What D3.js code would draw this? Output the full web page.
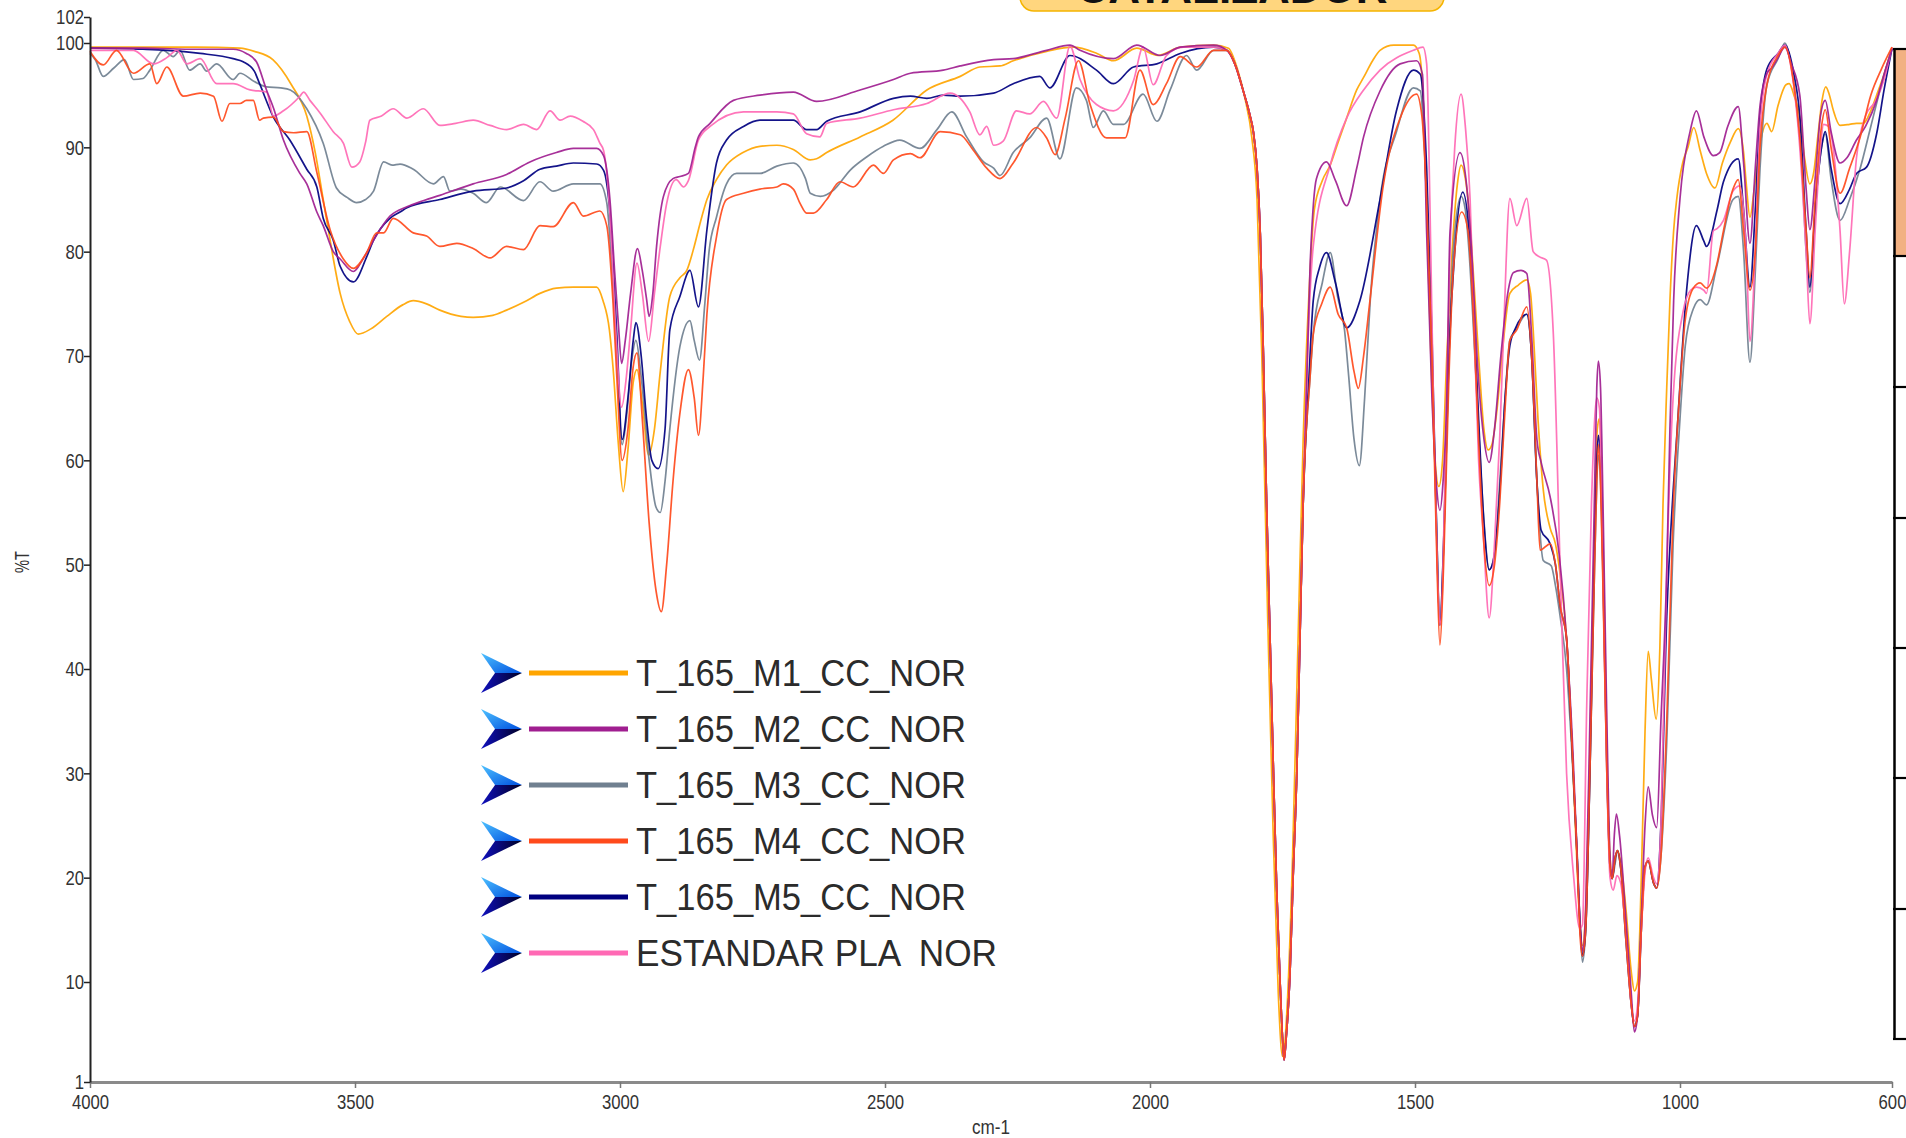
<!DOCTYPE html>
<html>
<head>
<meta charset="utf-8">
<script src="https://cdn.jsdelivr.net/npm/d3@7"></script>
<style>
  html, body { margin: 0; padding: 0; background: #fff; overflow: hidden; }
  svg { display: block; }
</style>
</head>
<body>
<svg id="chart" width="1906" height="1138"></svg>
<script>
// ---------------- DATA ----------------
const seriesNames = ["T_165_M1_CC_NOR", "T_165_M2_CC_NOR", "T_165_M3_CC_NOR", "T_165_M4_CC_NOR", "T_165_M5_CC_NOR", "ESTANDAR PLA  NOR"];
const xTicks = [4000, 3500, 3000, 2500, 2000, 1500, 1000, 600];
const yTicks = [1, 10, 20, 30, 40, 50, 60, 70, 80, 90, 100, 102];
const badgeText = "CATALIZADOR";

// common C=O band (1855-1711 cm-1)
const carbonyl = [[1855,99.3],[1840,98.0],[1824,95.4],[1812,93.2],[1805,91.5],[1798,88.0],[1792,81.8],[1786,70.0],[1780,55.9],[1773,42.0],[1767,30.0],[1761,19.0],[1755,10.6],[1750,5.0],[1747,3.0],[1743,5.0],[1736,10.6],[1730,20.0],[1723,30.0],[1717,43.0],[1711,55.9]];

const m1 = [[4000,99.6],[3900,99.6],[3800,99.6],[3717,99.5],[3690,99.2],[3655,98.4],[3620,96.0],[3591,93.0],[3575,89.5],[3560,85.0],[3545,80.5],[3528,76.0],[3510,73.3],[3494,72.1],[3470,72.6],[3440,73.8],[3410,74.9],[3390,75.3],[3365,75.0],[3340,74.4],[3300,73.8],[3277,73.7],[3240,73.9],[3214,74.4],[3180,75.2],[3151,76.0],[3120,76.5],[3088,76.6],[3044,76.6],[3032,75.3],[3020,72.5],[3013,68.8],[3003,61.5],[2994,57.0],[2985,61.0],[2975,67.5],[2968,68.7],[2958,65.5],[2946,60.5],[2935,63.0],[2924,68.5],[2906,75.7],[2887,77.5],[2874,78.2],[2860,80.5],[2849,82.7],[2836,85.0],[2818,86.9],[2799,88.3],[2768,89.5],[2736,90.1],[2704,90.2],[2673,89.8],[2641,88.8],[2629,88.9],[2610,89.5],[2547,91.0],[2485,92.6],[2421,95.5],[2358,96.8],[2321,97.7],[2283,97.8],[2258,98.3],[2195,99.2],[2145,99.6],[2100,99.0],[2069,98.3],[2025,99.5],[1985,98.8],[1943,99.6],[1880,99.8],[1852,99.5],[1835,97.5],[1820,94.5],[1808,91.0],[1798,85.0],[1789,70.0],[1778,45.0],[1768,25.0],[1758,9.0],[1750,3.3],[1741,8.0],[1731,22.0],[1721,42.0],[1711,62.0],[1700,76.0],[1690,84.0],[1675,86.8],[1660,88.3],[1645,90.5],[1629,92.8],[1610,95.5],[1597,96.7],[1580,98.3],[1566,99.3],[1540,99.8],[1503,99.8],[1492,99.0],[1485,95.0],[1478,84.0],[1470,70.0],[1462,60.0],[1455,57.5],[1448,60.0],[1440,70.0],[1430,80.0],[1420,86.5],[1413,88.3],[1405,87.0],[1398,84.0],[1390,78.0],[1380,70.0],[1370,63.0],[1362,61.0],[1355,61.5],[1345,65.0],[1335,70.5],[1321,76.0],[1305,76.8],[1289,77.3],[1282,76.0],[1277,72.5],[1268,64.0],[1258,57.2],[1245,53.5],[1235,52.0],[1226,49.0],[1214,42.9],[1205,34.0],[1195,22.0],[1188,15.0],[1184,13.5],[1178,17.0],[1170,32.0],[1162,52.0],[1156,63.0],[1152,64.0],[1147,57.0],[1140,38.0],[1134,24.0],[1128,20.5],[1122,22.0],[1118,22.6],[1112,21.5],[1102,17.0],[1092,11.0],[1086,9.2],[1080,10.0],[1073,20.0],[1066,34.0],[1060,41.7],[1054,39.0],[1045,35.2],[1038,42.0],[1032,55.9],[1025,67.0],[1019,75.3],[1012,82.0],[1006,85.1],[995,88.5],[985,90.0],[974,91.9],[962,89.7],[950,87.5],[934,86.1],[920,88.5],[905,90.5],[890,91.8],[880,89.5],[875,86.5],[868,83.3],[860,86.0],[850,90.0],[836,92.3],[827,91.5],[815,94.0],[800,96.0],[794,96.1],[785,95.0],[774,92.9],[765,89.0],[755,86.5],[748,87.5],[740,91.0],[732,94.5],[725,95.8],[718,95.0],[711,93.6],[698,92.1],[680,92.2],[667,92.3],[654,92.3],[640,93.5],[629,95.0],[615,97.0],[600,99.6]];

const m2 = [[4000,99.5],[3900,99.5],[3800,99.4],[3730,99.4],[3705,99.0],[3686,98.2],[3667,95.5],[3654,93.8],[3635,90.7],[3604,87.5],[3591,86.5],[3572,83.8],[3560,82.5],[3541,80.0],[3528,79.3],[3503,78.1],[3485,79.3],[3465,81.1],[3434,83.4],[3402,84.3],[3370,84.9],[3340,85.4],[3277,86.5],[3214,87.4],[3170,88.6],[3120,89.5],[3088,89.9],[3044,89.9],[3031,89.2],[3019,85.0],[3010,78.0],[3003,73.0],[2997,69.3],[2990,71.5],[2980,76.0],[2967,80.3],[2958,78.2],[2950,75.5],[2945,73.8],[2938,76.0],[2931,80.5],[2918,85.3],[2900,87.0],[2887,87.2],[2871,87.5],[2858,90.0],[2852,91.0],[2830,92.3],[2786,94.5],[2736,95.0],[2673,95.3],[2629,94.4],[2547,95.5],[2484,96.5],[2452,97.1],[2390,97.4],[2358,97.8],[2295,98.4],[2258,98.5],[2195,99.3],[2151,99.8],[2132,99.3],[2069,98.5],[2025,99.8],[1981,98.8],[1943,99.6],[1880,99.8],
  ...carbonyl,
  [1698,78.6],[1686,87.0],[1667,88.6],[1650,86.8],[1629,84.4],[1610,88.0],[1597,91.0],[1566,95.4],[1528,98.0],[1497,98.3],[1486,97.0],[1478,81.8],[1468,66.0],[1460,58.0],[1453,55.2],[1447,58.0],[1440,66.0],[1434,81.8],[1415,89.5],[1404,87.0],[1392,79.0],[1383,70.0],[1371,62.5],[1360,59.8],[1350,63.0],[1338,70.0],[1325,76.0],[1314,78.0],[1300,78.2],[1289,77.9],[1280,72.0],[1270,62.0],[1262,59.8],[1245,56.5],[1228,51.0],[1214,42.9],[1202,32.0],[1194,22.0],[1188,15.0],[1184,13.0],[1178,17.0],[1170,35.0],[1162,55.0],[1157,67.0],[1154,69.5],[1150,67.0],[1145,55.0],[1138,35.0],[1132,22.0],[1128,20.0],[1124,24.0],[1120,26.1],[1114,24.0],[1102,16.0],[1092,9.0],[1086,5.5],[1080,7.0],[1073,16.0],[1066,25.0],[1060,28.7],[1052,26.0],[1044,24.8],[1036,35.0],[1025,49.4],[1019,63.0],[1012,75.3],[1000,85.1],[981,91.5],[969,93.5],[955,91.0],[937,89.2],[925,89.5],[910,92.0],[890,93.9],[880,88.5],[868,80.8],[858,88.0],[849,94.0],[836,97.1],[827,97.6],[815,98.6],[802,99.6],[790,98.0],[774,95.0],[762,86.0],[755,82.1],[745,87.0],[735,93.0],[726,94.5],[715,91.5],[698,88.5],[685,89.0],[667,90.7],[650,92.0],[629,94.5],[612,97.5],[600,99.4]];

const m3 = [[4000,99.0],[3990,98.4],[3975,96.8],[3955,97.6],[3935,98.4],[3918,96.5],[3900,96.6],[3887,97.4],[3862,99.3],[3843,98.7],[3830,99.3],[3812,97.4],[3792,98.0],[3780,97.3],[3761,98.0],[3730,96.5],[3717,97.1],[3690,96.3],[3667,95.8],[3640,95.7],[3622,95.5],[3591,93.7],[3560,90.4],[3535,86.1],[3515,85.2],[3497,84.7],[3480,85.0],[3465,85.8],[3446,88.6],[3430,88.3],[3415,88.4],[3390,87.9],[3352,86.5],[3333,87.2],[3321,85.8],[3300,86.0],[3277,85.6],[3252,84.7],[3226,86.2],[3182,84.9],[3151,86.7],[3126,85.8],[3088,86.5],[3038,86.5],[3025,84.7],[3015,78.0],[3006,70.0],[2996,61.5],[2988,64.0],[2978,69.5],[2970,71.5],[2960,68.0],[2945,60.0],[2932,55.5],[2924,55.0],[2915,58.0],[2906,63.0],[2887,70.9],[2868,73.4],[2860,71.5],[2850,69.6],[2840,75.0],[2832,80.0],[2818,83.3],[2799,86.5],[2780,87.5],[2736,87.5],[2704,88.2],[2673,88.5],[2650,87.0],[2641,85.6],[2622,85.3],[2597,85.9],[2566,87.8],[2534,89.1],[2503,90.1],[2472,90.7],[2434,89.9],[2402,91.7],[2374,93.4],[2346,91.0],[2314,88.6],[2295,88.0],[2283,87.3],[2258,89.5],[2227,90.9],[2195,92.8],[2170,88.9],[2139,95.7],[2120,94.5],[2107,91.9],[2088,93.5],[2069,92.2],[2050,92.2],[2013,95.1],[1987,92.5],[1962,95.5],[1931,98.8],[1912,97.4],[1880,99.3],
  ...carbonyl,
  [1698,68.0],[1692,72.1],[1675,77.0],[1660,79.9],[1646,75.7],[1633,72.5],[1625,68.0],[1615,62.0],[1605,59.5],[1595,66.0],[1584,75.7],[1566,85.0],[1535,91.5],[1503,95.7],[1490,95.4],[1478,85.0],[1468,70.0],[1460,55.0],[1453,44.2],[1446,52.0],[1436,70.0],[1428,80.0],[1413,85.3],[1405,84.0],[1398,80.0],[1385,68.0],[1371,55.0],[1360,49.5],[1350,51.0],[1340,58.0],[1330,66.0],[1321,71.5],[1310,72.5],[1289,74.0],[1280,70.0],[1270,58.0],[1258,50.4],[1243,49.9],[1235,48.0],[1226,45.0],[1214,40.0],[1205,33.0],[1195,23.5],[1188,15.0],[1184,11.9],[1178,15.0],[1170,30.0],[1162,48.0],[1157,58.0],[1154,60.5],[1150,58.0],[1145,48.0],[1138,30.0],[1132,21.0],[1128,19.9],[1122,21.5],[1118,22.6],[1112,21.0],[1102,15.0],[1092,8.0],[1086,6.0],[1080,7.0],[1073,16.0],[1066,21.0],[1060,21.6],[1050,19.5],[1044,19.0],[1036,22.0],[1025,33.0],[1013,52.0],[1000,64.0],[990,71.0],[975,74.5],[962,75.4],[950,74.9],[931,78.5],[900,85.0],[890,85.3],[880,80.0],[868,69.4],[858,78.0],[849,88.0],[836,96.0],[815,98.5],[802,100.0],[785,96.0],[770,88.0],[762,80.0],[755,76.1],[745,84.0],[733,90.0],[726,91.3],[715,87.0],[698,83.0],[680,85.0],[660,88.0],[640,92.0],[620,96.0],[600,99.5]];

const m4 = [[4000,99.2],[3975,97.9],[3950,99.3],[3918,97.1],[3887,98.0],[3874,96.1],[3855,97.7],[3824,94.9],[3792,95.2],[3767,94.9],[3751,92.5],[3736,94.2],[3717,94.2],[3705,94.5],[3692,94.5],[3680,92.6],[3673,92.8],[3654,92.9],[3635,91.5],[3616,91.4],[3591,91.5],[3572,87.6],[3547,82.1],[3522,79.3],[3503,78.4],[3478,79.9],[3459,81.8],[3446,81.8],[3428,83.2],[3390,81.8],[3365,81.5],[3340,80.5],[3308,80.8],[3277,80.3],[3245,79.4],[3214,80.5],[3182,80.2],[3151,82.5],[3126,82.4],[3088,84.7],[3069,83.4],[3038,83.9],[3025,82.5],[3013,75.0],[3006,68.0],[2996,60.0],[2985,63.0],[2975,69.0],[2968,70.3],[2958,64.0],[2945,54.0],[2932,47.5],[2922,45.5],[2912,50.0],[2900,58.0],[2887,64.5],[2871,68.7],[2860,66.0],[2852,62.4],[2843,68.0],[2836,74.0],[2818,81.4],[2799,85.0],[2767,85.6],[2736,86.0],[2704,86.2],[2692,86.5],[2673,86.0],[2660,84.6],[2648,83.7],[2635,83.7],[2610,85.0],[2585,86.7],[2560,86.2],[2522,88.3],[2503,87.5],[2484,88.8],[2452,89.4],[2434,89.0],[2396,91.5],[2358,91.2],[2333,89.7],[2308,88.0],[2283,87.0],[2258,88.5],[2214,91.9],[2195,90.9],[2179,89.3],[2160,92.8],[2135,98.3],[2113,94.1],[2082,90.9],[2047,90.9],[2019,97.4],[1994,94.1],[1969,96.1],[1943,98.7],[1912,97.7],[1880,99.3],
  ...carbonyl,
  [1698,68.0],[1692,72.1],[1676,75.0],[1660,76.6],[1645,74.0],[1629,72.7],[1615,68.5],[1607,66.9],[1597,70.0],[1585,75.3],[1560,86.3],[1528,92.8],[1497,95.1],[1487,93.0],[1478,85.0],[1468,70.0],[1460,53.0],[1453,42.3],[1446,50.0],[1436,68.0],[1428,78.0],[1412,83.8],[1400,82.0],[1390,74.0],[1380,62.0],[1370,52.0],[1360,48.0],[1350,50.0],[1340,56.0],[1330,65.0],[1321,71.5],[1308,72.5],[1289,74.7],[1280,70.0],[1270,58.0],[1264,51.4],[1245,52.0],[1235,50.0],[1226,46.0],[1214,42.9],[1205,34.0],[1195,23.0],[1188,14.0],[1184,12.5],[1178,15.0],[1170,30.0],[1162,48.0],[1157,58.0],[1154,61.5],[1150,58.0],[1145,47.0],[1138,30.0],[1132,21.0],[1128,19.9],[1122,22.0],[1118,22.6],[1112,21.0],[1102,14.0],[1092,8.0],[1086,6.0],[1080,7.0],[1073,15.0],[1066,21.0],[1060,21.6],[1050,19.5],[1044,19.0],[1036,22.0],[1025,35.0],[1013,55.0],[1000,67.0],[990,73.5],[975,76.5],[962,77.0],[950,76.5],[930,78.9],[918,82.0],[900,86.0],[890,86.9],[880,82.0],[868,76.3],[858,80.0],[849,90.0],[836,96.0],[815,98.8],[802,99.6],[785,96.0],[774,91.0],[762,82.0],[755,77.5],[745,85.0],[733,92.0],[726,93.6],[715,90.0],[698,85.6],[680,88.0],[660,91.0],[640,95.0],[620,97.5],[600,99.6]];

const m5 = [[4000,99.5],[3900,99.4],[3855,99.3],[3792,99.0],[3730,98.5],[3711,98.2],[3690,97.3],[3680,96.1],[3654,92.9],[3623,90.7],[3591,87.9],[3572,86.2],[3560,83.2],[3541,81.1],[3528,78.6],[3503,77.1],[3478,79.5],[3465,81.1],[3434,83.2],[3415,83.8],[3402,84.2],[3340,85.0],[3277,85.8],[3214,86.1],[3182,86.8],[3151,87.9],[3120,88.2],[3088,88.5],[3044,88.4],[3031,87.8],[3019,83.7],[3006,72.0],[2996,62.0],[2985,66.0],[2975,71.5],[2970,73.2],[2960,70.0],[2950,64.0],[2940,60.0],[2928,59.2],[2915,63.0],[2906,72.5],[2887,75.7],[2868,78.2],[2852,74.7],[2836,82.1],[2818,88.5],[2799,90.7],[2767,92.0],[2736,92.6],[2673,92.6],[2648,91.7],[2629,91.7],[2610,92.5],[2547,93.4],[2484,94.7],[2452,94.9],[2421,94.7],[2390,95.0],[2358,94.9],[2295,95.2],[2258,96.1],[2208,96.8],[2189,95.7],[2151,98.8],[2101,97.4],[2069,96.1],[2031,97.7],[1987,98.0],[1943,99.0],[1880,99.6],
  ...carbonyl,
  [1700,68.0],[1692,75.3],[1680,78.5],[1667,79.9],[1650,77.0],[1629,72.7],[1604,75.3],[1566,85.0],[1535,93.5],[1503,97.4],[1490,97.0],[1478,88.0],[1468,72.0],[1460,55.0],[1453,44.2],[1446,52.0],[1436,70.0],[1425,80.0],[1410,85.7],[1398,82.0],[1390,75.0],[1380,64.0],[1370,54.0],[1360,49.5],[1350,51.0],[1340,57.0],[1330,66.0],[1321,71.0],[1310,72.7],[1289,74.0],[1280,70.0],[1270,58.0],[1262,53.3],[1245,52.0],[1235,50.0],[1226,46.0],[1214,42.9],[1205,34.0],[1195,23.0],[1188,15.0],[1184,12.5],[1178,15.0],[1170,30.0],[1162,50.0],[1157,60.0],[1154,62.4],[1150,60.0],[1145,49.0],[1138,31.0],[1132,21.0],[1128,19.9],[1122,22.0],[1118,22.6],[1112,21.0],[1102,14.0],[1092,8.0],[1086,6.0],[1080,7.0],[1073,15.0],[1066,21.0],[1060,21.6],[1050,19.5],[1044,19.0],[1036,25.0],[1025,45.0],[1013,57.0],[1006,62.4],[987,76.6],[969,82.5],[955,81.0],[950,80.5],[930,84.0],[918,86.7],[890,88.9],[880,84.0],[868,76.6],[858,84.0],[849,93.0],[836,97.5],[815,99.0],[802,99.8],[785,97.0],[774,93.0],[762,82.0],[755,76.6],[745,84.0],[733,90.0],[726,91.5],[715,88.0],[698,84.6],[680,86.0],[667,87.5],[648,88.1],[629,91.3],[615,95.5],[600,99.5]];

const pla = [[4000,99.3],[3918,99.3],[3880,98.0],[3855,98.6],[3836,99.3],[3817,98.0],[3792,98.5],[3761,96.1],[3730,96.1],[3698,95.5],[3667,95.3],[3654,93.0],[3635,93.5],[3604,94.9],[3597,95.3],[3585,94.5],[3566,93.3],[3541,91.5],[3522,90.4],[3506,88.1],[3491,88.6],[3480,90.5],[3472,92.6],[3450,93.0],[3428,93.7],[3402,92.8],[3371,93.7],[3340,92.1],[3310,92.3],[3277,92.6],[3245,92.1],[3214,91.7],[3182,92.2],[3157,91.7],[3132,93.5],[3113,92.6],[3094,93.0],[3070,92.5],[3050,91.7],[3038,90.4],[3031,89.7],[3019,83.7],[3008,72.5],[2997,65.1],[2988,68.0],[2980,72.5],[2968,78.9],[2958,76.0],[2946,71.4],[2935,76.0],[2924,80.5],[2912,84.6],[2894,86.9],[2880,86.2],[2871,86.8],[2852,90.7],[2830,92.0],[2767,93.4],[2704,93.4],[2673,93.2],[2648,91.3],[2623,91.0],[2610,92.3],[2547,92.8],[2484,93.6],[2421,94.2],[2377,95.2],[2340,93.4],[2321,91.2],[2308,92.0],[2295,90.2],[2277,90.6],[2252,93.5],[2227,93.2],[2201,94.4],[2176,92.8],[2151,99.7],[2132,96.5],[2101,94.1],[2069,93.5],[2031,96.4],[2013,99.6],[1994,96.0],[1969,98.8],[1937,99.6],[1880,99.6],
  ...carbonyl,
  [1698,76.0],[1692,80.5],[1660,88.3],[1629,92.8],[1597,95.5],[1566,97.4],[1503,99.3],[1485,99.6],[1478,98.0],[1472,85.0],[1465,65.0],[1458,50.0],[1453,44.2],[1448,48.0],[1442,62.0],[1434,80.0],[1425,90.0],[1413,95.1],[1405,92.0],[1396,85.0],[1388,72.0],[1380,60.0],[1371,52.7],[1360,44.9],[1350,52.0],[1340,62.4],[1333,72.0],[1321,85.1],[1308,82.5],[1289,85.1],[1277,80.0],[1265,79.5],[1252,79.2],[1239,72.1],[1226,49.4],[1214,30.0],[1201,20.3],[1189,15.1],[1184,15.5],[1176,36.5],[1167,55.9],[1157,66.0],[1152,65.0],[1145,48.0],[1138,30.0],[1132,20.0],[1126,18.8],[1119,20.2],[1112,19.5],[1101,14.0],[1092,8.0],[1086,6.5],[1080,8.0],[1073,15.0],[1066,20.5],[1060,21.9],[1050,20.0],[1044,19.4],[1036,25.0],[1025,49.4],[1013,66.0],[994,74.3],[980,76.3],[969,76.6],[955,76.3],[950,76.0],[937,82.0],[930,82.2],[918,83.0],[900,85.8],[887,86.3],[875,80.0],[868,71.4],[858,80.0],[849,92.0],[836,97.0],[815,99.0],[802,99.8],[790,97.5],[774,90.0],[762,80.0],[755,73.1],[745,82.0],[735,90.0],[729,92.2],[720,92.0],[711,90.0],[698,82.0],[690,75.0],[680,80.0],[667,89.0],[650,93.0],[630,94.5],[615,96.5],[600,99.6]];

const seriesValues = [m1, m2, m3, m4, m5, pla];
const seriesColors = ["#FFA500", "#A01E90", "#708090", "#FF4A1C", "#000080", "#FF69B4"];
const drawOrder = [0, 2, 4, 5, 1, 3];

// ---------------- CHART ----------------
const svg = d3.select("#chart");
const x = d3.scaleLinear().domain([4000, 600]).range([90, 1892]);
const y = d3.scaleLinear().domain([1, 10, 100, 102]).range([1082, 982, 43, 17]);

const tickFont = "'Liberation Sans',Arial,sans-serif";
const digitW = 9.3;

// right-side table fragment
const tbl = svg.append("g");
tbl.append("rect").attr("x", 1894).attr("y", 49).attr("width", 20).attr("height", 207).attr("fill", "#F2B182");
[49, 256, 387, 518, 648, 778, 909, 1039].forEach(v => {
  tbl.append("line").attr("x1", 1893).attr("x2", 1906).attr("y1", v).attr("y2", v).attr("stroke", "#000").attr("stroke-width", 2.2);
});
tbl.append("line").attr("x1", 1894.5).attr("x2", 1894.5).attr("y1", 48).attr("y2", 1040).attr("stroke", "#000").attr("stroke-width", 2.5);

// top badge
const badge = svg.append("g");
badge.append("rect").attr("x", 1020).attr("y", -40).attr("width", 424).attr("height", 51).attr("rx", 14).attr("ry", 14)
  .attr("fill", "#FFD67E").attr("stroke", "#F5B400").attr("stroke-width", 1.5);
badge.append("text").attr("x", 1232).attr("y", 3).attr("text-anchor", "middle")
  .attr("font-family", "'Liberation Sans',Arial,sans-serif").attr("font-weight", "bold").attr("font-size", 44)
  .attr("fill", "#111").text(badgeText);

// lines
const line = d3.line().x(d => x(d[0])).y(d => y(d[1])).curve(d3.curveMonotoneX);
const plot = svg.append("g");
drawOrder.forEach(i => {
  plot.append("path").datum(seriesValues[i]).attr("d", line)
    .attr("fill", "none").attr("stroke", seriesColors[i]).attr("stroke-width", 1.7)
    .attr("stroke-linejoin", "round").attr("opacity", 0.92);
});

// x axis
const xAxis = svg.append("g").attr("transform", "translate(0,1082)")
  .call(d3.axisBottom(x).tickValues(xTicks).tickSize(6).tickSizeOuter(0).tickFormat(d3.format("d")));
xAxis.select(".domain").attr("stroke", "#8a8a8a").attr("stroke-width", 3);
xAxis.selectAll(".tick line").attr("stroke", "#777").attr("stroke-width", 1.5);
xAxis.selectAll(".tick text").attr("font-family", tickFont).attr("font-size", 21).attr("fill", "#333")
  .attr("y", 12).attr("dy", "0.71em")
  .attr("textLength", d => String(d).length * digitW).attr("lengthAdjust", "spacingAndGlyphs");

// y axis
const yAxis = svg.append("g").attr("transform", "translate(90,0)")
  .call(d3.axisLeft(y).tickValues(yTicks).tickSize(6).tickSizeOuter(0).tickFormat(d3.format("d")));
yAxis.select(".domain").attr("stroke", "#222").attr("stroke-width", 2);
yAxis.selectAll(".tick line").attr("stroke", "#222").attr("stroke-width", 1.5);
yAxis.selectAll(".tick text").attr("font-family", tickFont).attr("font-size", 21).attr("fill", "#333").attr("x", -6)
  .attr("textLength", d => String(d).length * digitW).attr("lengthAdjust", "spacingAndGlyphs");

// axis titles
svg.append("text").attr("x", 991).attr("y", 1134).attr("text-anchor", "middle")
  .attr("font-family", tickFont).attr("font-size", 21).attr("fill", "#333")
  .attr("textLength", 38).attr("lengthAdjust", "spacingAndGlyphs").text("cm-1");
svg.append("text").attr("transform", "translate(29,562) rotate(-90)").attr("text-anchor", "middle")
  .attr("font-family", tickFont).attr("font-size", 21).attr("fill", "#333")
  .attr("textLength", 22).attr("lengthAdjust", "spacingAndGlyphs").text("%T");

// legend
const defs = svg.append("defs");
const gUp = defs.append("linearGradient").attr("id", "arrUp").attr("x1", "0").attr("y1", "0").attr("x2", "1").attr("y2", "1");
gUp.append("stop").attr("offset", "0%").attr("stop-color", "#4FC3FF");
gUp.append("stop").attr("offset", "100%").attr("stop-color", "#0050E0");
const gDn = defs.append("linearGradient").attr("id", "arrDn").attr("x1", "0").attr("y1", "0").attr("x2", "1").attr("y2", "0");
gDn.append("stop").attr("offset", "0%").attr("stop-color", "#1010C0");
gDn.append("stop").attr("offset", "100%").attr("stop-color", "#000022");

const legend = svg.append("g");
const rowY = d3.scaleLinear().domain([0, 5]).range([673, 953]);
seriesNames.forEach((name, i) => {
  const cy = rowY(i);
  const g = legend.append("g").attr("transform", `translate(481,${cy - 20})`);
  g.append("path").attr("d", "M0,0 L41,20 L14,20 Z").attr("fill", "url(#arrUp)");
  g.append("path").attr("d", "M14,20 L41,20 L0,40 Z").attr("fill", "url(#arrDn)");
  legend.append("line").attr("x1", 529).attr("x2", 628).attr("y1", cy).attr("y2", cy)
    .attr("stroke", seriesColors[i]).attr("stroke-width", 5);
  legend.append("text").attr("x", 636).attr("y", cy + 13)
    .attr("font-family", "'Liberation Sans',Arial,sans-serif").attr("font-size", 36)
    .attr("textLength", i === 5 ? 361 : 330).attr("lengthAdjust", "spacingAndGlyphs")
    .attr("fill", "#2b2b2b").style("white-space", "pre").text(name);
});
</script>
</body>
</html>
